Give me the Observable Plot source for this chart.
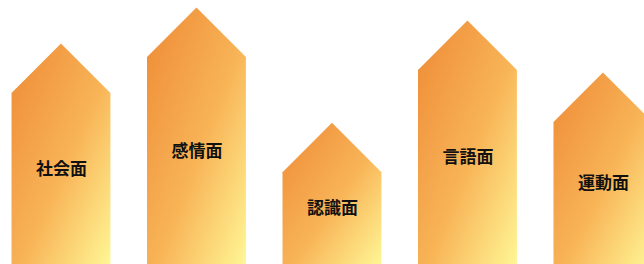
<!DOCTYPE html>
<html><head><meta charset="utf-8">
<script src="https://cdn.jsdelivr.net/npm/d3@7"></script>
<script src="https://cdn.jsdelivr.net/npm/@observablehq/plot@0.6"></script>
<style>html,body{margin:0;padding:0;background:#fff;overflow:hidden}</style>
</head><body><div id="chart"></div>
<script>
const categories = ["社会面", "感情面", "認識面", "言語面", "運動面"];
const values = [64.8, 78.4, 34.8, 73.5, 53.8];

const W = 644, H = 264;
const xDomain = [-0.45, 4.303];
const yDomain = [0, 100];
const halfWidth = 0.365;           // half bar width in x units
const pxPerX = W / (xDomain[1] - xDomain[0]);
const pxPerY = H / (yDomain[1] - yDomain[0]);
const roof = halfWidth * pxPerX / pxPerY; // 45° roof in y units
const base = 7.5;                  // visual base for label centring

const shapes = categories.flatMap((c, i) => [
  {cat: c, x: i - halfWidth, y: values[i]},
  {cat: c, x: i, y: values[i] + roof},
  {cat: c, x: i + halfWidth, y: values[i]}
]);
const labels = categories.map((c, i) => ({cat: c, x: i, y: (values[i] + base) / 2}));

const chart = Plot.plot({
  width: W, height: H,
  marginTop: 0, marginRight: 0, marginBottom: 0, marginLeft: 0,
  style: {background: "#fff", overflow: "hidden"},
  x: {domain: xDomain, axis: null},
  y: {domain: yDomain, axis: null},
  marks: [
    Plot.areaY(shapes, {x: "x", y1: 0, y2: "y", z: "cat", fill: "url(#houseGrad)", clip: true}),
    Plot.text(labels, {x: "x", y: "y", text: "cat", fontSize: 17, fontWeight: "bold",
      fontFamily: "'Noto Sans CJK JP', sans-serif", fill: "#111"})
  ]
});

const defs = d3.select(chart).insert("defs", ":first-child");
const g = defs.append("linearGradient").attr("id", "houseGrad")
  .attr("x1", 0).attr("y1", 0).attr("x2", 1).attr("y2", 1);
g.append("stop").attr("offset", "0%").attr("stop-color", "#EE8A36");
g.append("stop").attr("offset", "55%").attr("stop-color", "#F8B457");
g.append("stop").attr("offset", "100%").attr("stop-color", "#FFF695");

document.getElementById("chart").appendChild(chart);
</script>
</body></html>
